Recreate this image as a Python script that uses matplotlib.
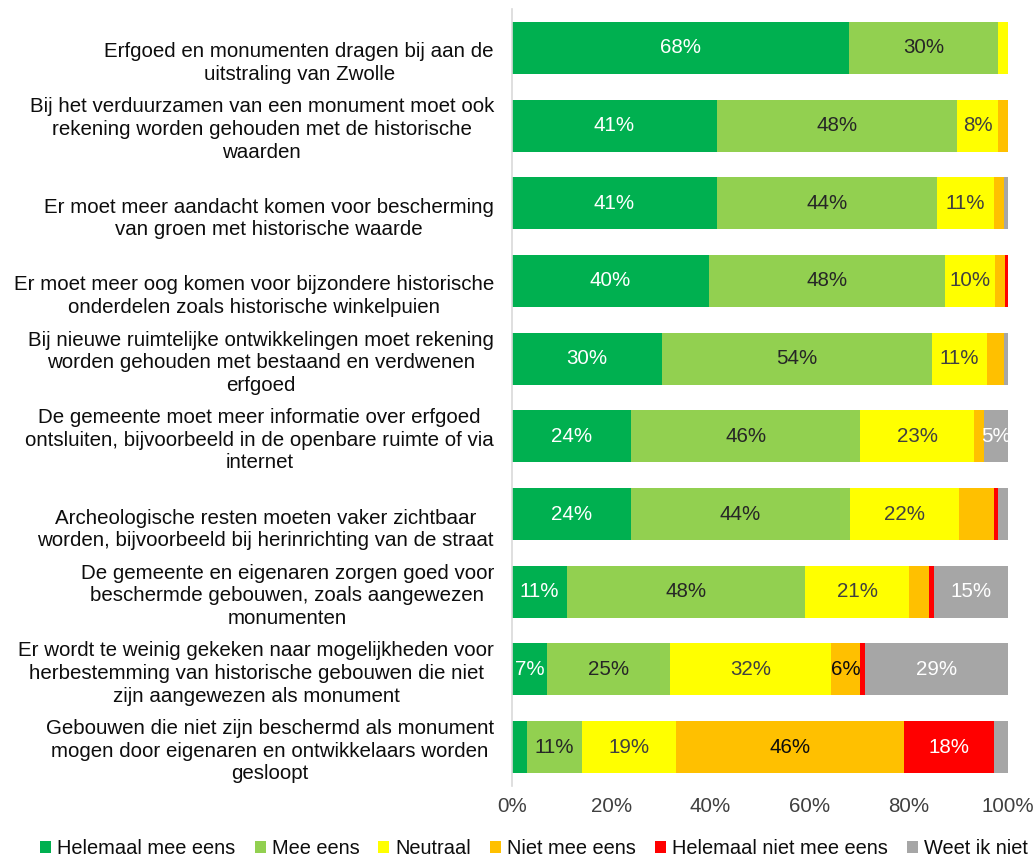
import matplotlib
matplotlib.use("Agg")
import matplotlib.pyplot as plt
import numpy as np

plt.rcParams['font.family'] = ['Liberation Sans', 'DejaVu Sans']

categories = [
    "Erfgoed en monumenten dragen bij aan de\nuitstraling van Zwolle",
    "Bij het verduurzamen van een monument moet ook\nrekening worden gehouden met de historische\nwaarden",
    "Er moet meer aandacht komen voor bescherming\nvan groen met historische waarde",
    "Er moet meer oog komen voor bijzondere historische\nonderdelen zoals historische winkelpuien",
    "Bij nieuwe ruimtelijke ontwikkelingen moet rekening\nworden gehouden met bestaand en verdwenen\nerfgoed",
    "De gemeente moet meer informatie over erfgoed\nontsluiten, bijvoorbeeld in de openbare ruimte of via\ninternet",
    "Archeologische resten moeten vaker zichtbaar\nworden, bijvoorbeeld bij herinrichting van de straat",
    "De gemeente en eigenaren zorgen goed voor\nbeschermde gebouwen, zoals aangewezen\nmonumenten",
    "Er wordt te weinig gekeken naar mogelijkheden voor\nherbestemming van historische gebouwen die niet\nzijn aangewezen als monument",
    "Gebouwen die niet zijn beschermd als monument\nmogen door eigenaren en ontwikkelaars worden\ngesloopt",
]

series_names = ["Helemaal mee eens", "Mee eens", "Neutraal", "Niet mee eens",
                "Helemaal niet mee eens", "Weet ik niet"]

helemaal_mee_eens = [68.0, 41.3, 41.3, 39.7, 30.2, 24.0, 24.0, 11.1, 7.1, 3.0]
mee_eens          = [30.0, 48.4, 44.4, 47.6, 54.4, 46.2, 44.1, 48.0, 24.8, 11.1]
neutraal          = [2.0, 8.3, 11.4, 10.0, 11.2, 23.0, 22.0, 21.0, 32.4, 19.0]
niet_mee_eens     = [0.0, 2.0, 2.1, 2.0, 3.3, 2.0, 7.1, 4.0, 5.9, 45.9]
helemaal_niet     = [0.0, 0.0, 0.0, 0.7, 0.0, 0.0, 0.8, 1.0, 1.0, 18.2]
weet_ik_niet      = [0.0, 0.0, 0.8, 0.0, 0.9, 4.8, 2.0, 14.9, 28.8, 2.8]

xtick_values = [0, 20, 40, 60, 80, 100]

# segments whose label is not shown in the original (row, series)
hidden_labels = {(6, 3)}

colors = ["#00B050", "#92D050", "#FFFF00", "#FFC000", "#FF0000", "#A6A6A6"]
label_colors = ["white", "#262626", "#404040", "#0D0D0D", "white", "white"]

series = [helemaal_mee_eens, mee_eens, neutraal, niet_mee_eens, helemaal_niet, weet_ik_niet]

fig = plt.figure(figsize=(10.33, 8.57), dpi=100)
ax = fig.add_axes([512/1033, 1 - 786/857, 496/1033, (786 - 9)/857])

y = np.arange(len(categories))
left = np.zeros(len(categories))
FS = 14.8
for s, (vals, name, col, lc) in enumerate(zip(series, series_names, colors, label_colors)):
    vals = np.array(vals)
    ax.barh(y, vals, left=left, height=0.67, color=col, label=name, edgecolor='none')
    for i, (v, l) in enumerate(zip(vals, left)):
        if v >= 4.5 and (i, s) not in hidden_labels:
            ax.text(l + v / 2, i, f"{v:.0f}%", ha='center', va='center',
                    color=lc, fontsize=FS)
    left = left + vals

ax.set_xlim(0, 100)
ax.set_ylim(len(categories) - 0.5, -0.5)
ax.set_xticks(xtick_values)
ax.set_xticklabels([f"{v}%" for v in xtick_values], fontsize=FS, color='#404040')
ax.tick_params(axis='x', length=0, pad=8)
ax.set_yticks([])
for i, cat in enumerate(categories):
    ax.annotate(cat, xy=(0, i), xycoords=('axes fraction', 'data'),
                xytext=(-13, -26), textcoords='offset points',
                ha='right', va='bottom', multialignment='center',
                fontsize=FS, color='#0D0D0D', linespacing=1.24)

for sp in ['top', 'right', 'bottom']:
    ax.spines[sp].set_visible(False)
ax.spines['left'].set_color('#D9D9D9')
ax.spines['left'].set_linewidth(1.2)

leg = fig.legend(loc='center', bbox_to_anchor=(0.517, 1 - 849/857), ncol=6, frameon=False,
                 fontsize=14.4, handlelength=0.55, handleheight=0.55, handletextpad=0.3,
                 columnspacing=0.95, borderaxespad=0, borderpad=0)
for t in leg.get_texts():
    t.set_color('#0D0D0D')

fig.savefig("out.png", dpi=100)
